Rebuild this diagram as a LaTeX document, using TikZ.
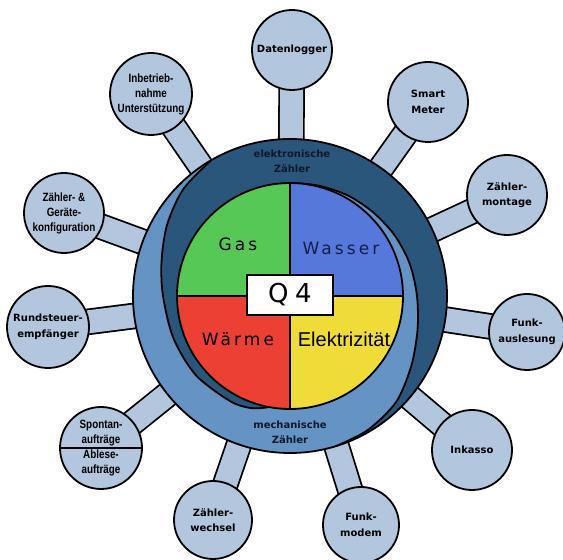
\documentclass[tikz,border=0pt]{standalone}
\usepackage{fontspec}
\setmainfont{DejaVu Sans}
\newfontfamily\narrowfont[FakeStretch=0.82]{Liberation Sans}
\newfontfamily\spacedfont[LetterSpace=18]{DejaVu Sans}
\newfontfamily\widefont[LetterSpace=25]{DejaVu Sans}
\newfontfamily\plainsans{Liberation Sans}
\usetikzlibrary{positioning,calc}
\definecolor{bubblecolor}{RGB}{178,198,222}
\definecolor{ringmidcolor}{RGB}{100,147,196}
\definecolor{ringdarkcolor}{RGB}{42,86,124}
\definecolor{gascolor}{RGB}{86,200,86}
\definecolor{wassercolor}{RGB}{86,120,218}
\definecolor{waermecolor}{RGB}{236,64,52}
\definecolor{stromcolor}{RGB}{240,220,56}
\definecolor{wassertext}{RGB}{20,30,80}
\definecolor{ringtextcolor}{RGB}{15,25,45}
\pgfdeclarelayer{background}
\pgfsetlayers{background,main}

\begin{document}
\begin{tikzpicture}[
    x=1pt, y=1pt,
    bubble/.style={circle, draw, line width=1.8pt, fill=bubblecolor, minimum size=80pt, inner sep=0pt, align=center, font=\bfseries\fontsize{10}{15.5}\selectfont},
    narrowbubble/.style={bubble, font=\narrowfont\bfseries\fontsize{12}{15}\selectfont},
    narrowtext/.style={align=center, inner sep=1pt, font=\narrowfont\bfseries\fontsize{12}{15}\selectfont},
    spoke/.style={draw=black, line width=1.8pt, double=bubblecolor, double distance=23pt},
    ringline/.style={line width=1.8pt},
    quarter/.style={font=\spacedfont\fontsize{17}{20}\selectfont},
    ringtext/.style={align=center, text=ringtextcolor, font=\bfseries\fontsize{10}{15}\selectfont}
]
\useasboundingbox (0,0) rectangle (563,560);
\coordinate (hub) at (290,264);

% Bubbles
\node[bubble] (datenlogger) at (292,510) {Datenlogger};
\node[bubble] (smartmeter) at (428,458) {Smart\\Meter};
\node[bubble] (montage) at (507,365) {Zähler-\\montage};
\node[bubble, minimum size=76pt] (funkauslesung) at (527,228) {Funk-\\auslesung};
\node[bubble] (inkasso) at (472,110) {Inkasso};
\node[bubble, minimum size=76pt] (funkmodem) at (361,35) {Funk-\\modem};
\node[bubble, minimum size=78pt] (wechsel) at (213,40) {Zähler-\\wechsel};
\node[bubble, minimum size=82pt] (auftraege) at (101,112) {};
\node[bubble, minimum size=82pt] (rundsteuer) at (48,233) {Rundsteuer-\\empfänger};
\node[narrowbubble] (konfig) at (64,347) {Zähler- \&\\Geräte-\\konfiguration};
\node[narrowbubble, minimum size=82pt] (inbetrieb) at (151,466) {Inbetrieb-\\nahme\\Unterstützung};

% split bubble
\draw[ringline] (auftraege.west) -- (auftraege.east);
\node[narrowtext, above=1pt of auftraege.center] (spontan) {Spontan-\\aufträge};
\node[narrowtext, below=1pt of auftraege.center] (ablese) {Ablese-\\aufträge};

% Spokes
\begin{pgfonlayer}{background}
\foreach \b in {datenlogger,smartmeter,montage,funkauslesung,inkasso,funkmodem,wechsel,auftraege,rundsteuer,konfig,inbetrieb}
    \draw[spoke] (\b.center) -- (hub);
\end{pgfonlayer}

% Ring
\begin{scope}[shift={(hub)}]
\fill[ringmidcolor] (0,0) circle[radius=157pt];
\fill[ringdarkcolor] (120:157pt) arc[start angle=120, end angle=-80, radius=157pt] -- (0,0)
    -- plot[smooth] coordinates {(265:108pt) (258:114pt) (250:119pt) (240:121pt) (220:123pt) (200:124pt) (180:127pt) (165:133pt) (150:142pt) (135:151pt) (120:157pt)} -- cycle;
\fill[ringmidcolor] plot[smooth] coordinates {(100:111pt) (90:113pt) (75:114pt) (60:116pt) (45:118pt) (30:121pt) (15:124pt) (0:127pt) (-15:132pt) (-30:140pt) (-45:150pt) (-60:155pt) (-73:157pt)}
    arc[start angle=-73, end angle=-95, radius=157pt] -- (0,0) -- cycle;
\draw[ringline] plot[smooth] coordinates {(265:108pt) (258:114pt) (250:119pt) (240:121pt) (220:123pt) (200:124pt) (180:127pt) (165:133pt) (150:142pt) (135:151pt) (120:157pt)};
\draw[ringline] plot[smooth] coordinates {(100:111pt) (90:113pt) (75:114pt) (60:116pt) (45:118pt) (30:121pt) (15:124pt) (0:127pt) (-15:132pt) (-30:140pt) (-45:150pt) (-60:155pt) (-73:157pt)};
\draw[ringline] (0,0) circle[radius=157pt];
\node[ringtext] (elektro) at (2,135) {elektronische\\Zähler};
\node[ringtext] (mecha) at (0,-136) {mechanische\\Zähler};

% Quarters
\fill[gascolor] (0,0) -- (90:113pt) arc[start angle=90, end angle=180, radius=113pt] -- cycle;
\fill[wassercolor] (0,0) -- (0:113pt) arc[start angle=0, end angle=90, radius=113pt] -- cycle;
\fill[waermecolor] (0,0) -- (180:113pt) arc[start angle=180, end angle=270, radius=113pt] -- cycle;
\fill[stromcolor] (0,0) -- (270:113pt) arc[start angle=270, end angle=360, radius=113pt] -- cycle;
\draw[ringline] (0,0) circle[radius=113pt];
\draw[line width=2.4pt] (90:113pt) -- (270:113pt) (180:113pt) -- (0:113pt);
\node[quarter] (gas) at (-52,52) {Gas};
\node[quarter, text=wassertext] (wasser) at (51,48) {Wasser};
\node[quarter] (waerme) at (-52,-43) {Wärme};
\node[font=\plainsans\fontsize{20}{24}\selectfont] (strom) at (54,-43) {Elektrizität};
\node[draw, line width=2pt, fill=white, minimum width=86pt, minimum height=40pt, font=\widefont\fontsize{26}{30}\selectfont] (q4) at (0,1) {Q4};
\end{scope}

\end{tikzpicture}
\end{document}
